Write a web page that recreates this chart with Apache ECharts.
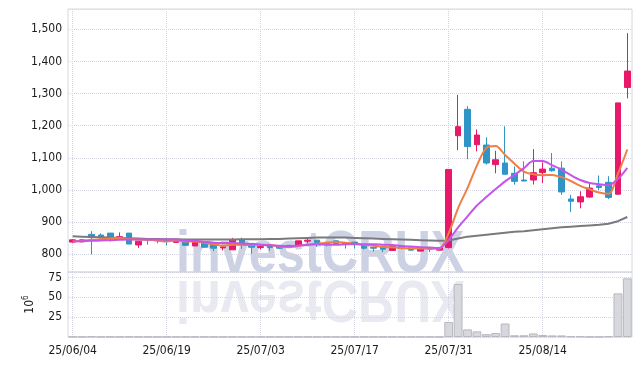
<!DOCTYPE html>
<html>
<head>
<meta charset="utf-8">
<script src="https://cdn.jsdelivr.net/npm/echarts@6/dist/echarts.min.js"></script>
<style>
  html, body {margin: 0; padding: 0; background: #fff;}
  #main {width: 642px; height: 366px;}
</style>
</head>
<body>
<div id="main"></div>
<script>
const dates = [
  '25/06/04', '25/06/05', '25/06/09', '25/06/10', '25/06/11', '25/06/12', '25/06/13', '25/06/16', '25/06/17', '25/06/18',
  '25/06/19', '25/06/20', '25/06/23', '25/06/24', '25/06/25', '25/06/26', '25/06/27', '25/06/30', '25/07/01', '25/07/02',
  '25/07/03', '25/07/04', '25/07/07', '25/07/08', '25/07/09', '25/07/10', '25/07/11', '25/07/14', '25/07/15', '25/07/16',
  '25/07/17', '25/07/18', '25/07/21', '25/07/22', '25/07/23', '25/07/24', '25/07/25', '25/07/28', '25/07/29', '25/07/30',
  '25/07/31', '25/08/01', '25/08/04', '25/08/05', '25/08/06', '25/08/07', '25/08/08', '25/08/11', '25/08/12', '25/08/13',
  '25/08/14', '25/08/18', '25/08/19', '25/08/20', '25/08/21', '25/08/22', '25/08/25', '25/08/26', '25/08/27', '25/08/28'
];

// [open, close, low, high]
const ohlc = [
  [838, 845, 836, 847], [839, 845, 837, 847], [862, 852, 800, 872], [860, 851, 850, 865], [866, 852, 840, 866],
  [851, 855, 846, 868], [866, 832, 832, 866], [829, 841, 820, 841], [847, 844, 830, 848], [846, 842, 834, 847],
  [847, 843, 828, 848], [837, 845, 837, 845], [842, 828, 828, 842], [826, 842, 826, 842], [835, 822, 822, 841],
  [834, 819, 810, 834], [820, 823, 812, 830], [814, 844, 814, 851], [846, 835, 817, 852], [834, 822, 802, 834],
  [821, 824, 815, 830], [825, 821, 811, 830], [824, 819, 817, 826], [828, 824, 822, 829], [829, 842, 829, 842],
  [841, 844, 834, 849], [844, 837, 823, 844], [837, 833, 825, 838], [842, 833, 832, 842], [836, 832, 818, 836],
  [838, 830, 818, 838], [830, 819, 815, 830], [822, 819, 809, 822], [825, 816, 807, 825], [812, 825, 812, 825],
  [825, 819, 815, 825], [820, 813, 812, 820], [810, 818, 810, 818], [820, 816, 807, 820], [813, 820, 812, 820],
  [821, 1064, 818, 1064], [1169, 1197, 1124, 1296], [1251, 1135, 1096, 1261], [1141, 1171, 1120, 1188], [1140, 1084, 1079, 1164],
  [1079, 1094, 1052, 1122], [1084, 1049, 1049, 1198], [1052, 1027, 1017, 1073], [1031, 1028, 1027, 1089], [1031, 1054, 1017, 1127],
  [1054, 1065, 1022, 1086], [1068, 1060, 1057, 1115], [1068, 994, 985, 1089], [972, 965, 932, 985], [963, 979, 943, 996],
  [978, 1006, 976, 1019], [1013, 1008, 1000, 1045], [1024, 977, 972, 1043], [987, 1271, 985, 1271], [1319, 1370, 1285, 1488]
];

// volume, millions
const volume = [
  0.4, 0.3, 0.6, 0.3, 0.4, 0.3, 0.5, 0.3, 0.2, 0.2,
  0.2, 0.2, 0.3, 0.2, 0.3, 0.2, 0.2, 0.3, 0.2, 0.2,
  0.2, 0.2, 0.2, 0.2, 0.3, 0.2, 0.2, 0.2, 0.2, 0.2,
  0.2, 0.2, 0.2, 0.2, 0.2, 0.2, 0.2, 0.2, 0.2, 0.2,
  19, 67, 9.6, 7.1, 3.5, 5, 17, 2.2, 2.2, 4.5,
  2.5, 2, 2, 0.8, 0.8, 0.3, 0.3, 0.8, 55, 74
];

const ma5 = [
  840, 842, 845, 847, 849, 851, 848, 846, 845, 843,
  840, 843, 840, 840, 836, 831, 827, 830, 829, 829,
  830, 829, 824, 822, 826, 830, 833, 836, 838, 836,
  833, 829, 827, 823, 822, 820, 818, 818, 818, 817,
  866, 944, 1006, 1076, 1131, 1137, 1109, 1082, 1057, 1049,
  1046, 1047, 1040, 1028, 1013, 1002, 992, 988, 1050, 1126
];

const ma10 = [
  840, 841, 842, 843, 844, 845, 846, 846, 846, 846,
  846, 846, 843, 842, 839, 836, 835, 835, 834, 832,
  830, 828, 827, 825, 827, 830, 831, 830, 830, 831,
  832, 831, 831, 830, 829, 826, 824, 822, 821, 820,
  845, 884, 918, 952, 978, 1003, 1027, 1047, 1068, 1090,
  1090, 1077, 1063, 1046, 1031, 1022, 1018, 1015, 1034, 1069
];

const maLong = [
  856, 855, 854, 853, 852, 851, 850, 849, 848, 848,
  847, 847, 846, 846, 846, 846, 846, 846, 847, 847,
  847, 848, 848, 849, 850, 851, 852, 852, 852, 852,
  851, 850, 849, 848, 847, 846, 845, 844, 843, 842,
  843, 849, 855, 858, 861, 864, 867, 870, 872, 875,
  878, 881, 884, 886, 888, 890, 892, 895, 903, 916
];

const upColor = '#e8196a';
const downColor = '#2f95c7';
const gridColor = '#d3d5e2';
const labelFont = '"DejaVu Sans Condensed", "Liberation Sans Narrow", "Roboto", sans-serif';

const chart = echarts.init(document.getElementById('main'));

const option = {
  animation: false,
  grid: [
    {left: 68, right: 10, top: 9, height: 263, show: true, borderColor: '#d6d7e1', borderWidth: 1},
    {left: 68, right: 10, top: 272, height: 65, show: true, borderColor: '#d6d7e1', borderWidth: 1}
  ],
  graphic: [
    {
      type: 'text', x: 176, y: 276, scaleX: 0.84, z: 0, silent: true,
      style: {text: 'investCRUX', x: 0, y: -21, verticalAlign: 'middle', font: 'bold 60px "Liberation Sans"', fill: '#cdd1e4'}
    },
    {
      type: 'text', x: 176, y: 277, scaleX: 0.84, scaleY: -1, z: 0, silent: true,
      style: {text: 'investCRUX', x: 0, y: -21, verticalAlign: 'middle', font: 'bold 60px "Liberation Sans"', fill: '#e8e9f1'}
    }
  ],
  xAxis: [
    {
      type: 'category', gridIndex: 0, data: dates,
      axisLine: {show: false}, axisTick: {show: false}, axisLabel: {show: false},
      splitLine: {show: true, interval: 9, alignWithLabel: true, lineStyle: {color: gridColor, type: 'dotted'}}
    },
    {
      type: 'category', gridIndex: 1, data: dates,
      axisLine: {show: false}, axisTick: {show: false},
      axisLabel: {interval: 9, margin: 8, fontFamily: labelFont, fontSize: 12, color: '#1a1a1a'},
      splitLine: {show: true, interval: 9, alignWithLabel: true, lineStyle: {color: gridColor, type: 'dotted'}}
    }
  ],
  yAxis: [
    {
      type: 'value', gridIndex: 0, min: 745, max: 1563, splitNumber: 8, minInterval: 100, maxInterval: 100,
      axisLine: {show: false}, axisTick: {show: false},
      axisLabel: {showMinLabel: false, showMaxLabel: false, margin: 6, fontFamily: labelFont, fontSize: 12, color: '#1a1a1a'},
      splitLine: {lineStyle: {color: gridColor, type: 'dotted'}}
    },
    {
      type: 'value', gridIndex: 1, min: 0, max: 82, interval: 25,
      name: '{a|10}{b|6}', nameLocation: 'middle', nameGap: 30,
      nameTextStyle: {
        rich: {
          a: {fontFamily: labelFont, fontSize: 12, color: '#222'},
          b: {fontFamily: labelFont, fontSize: 8, color: '#222', padding: [0, 0, 8, 0]}
        }
      },
      axisLine: {show: false}, axisTick: {show: false},
      axisLabel: {showMinLabel: false, showMaxLabel: false, margin: 6, fontFamily: labelFont, fontSize: 12, color: '#1a1a1a'},
      splitLine: {lineStyle: {color: gridColor, type: 'dotted'}}
    }
  ],
  series: [
    {
      type: 'candlestick', xAxisIndex: 0, yAxisIndex: 0, data: ohlc, barWidth: 6,
      itemStyle: {color: upColor, color0: downColor, borderColor: upColor, borderColor0: downColor, borderWidth: 1}
    },
    {
      type: 'line', xAxisIndex: 0, yAxisIndex: 0, data: maLong, showSymbol: false,
      lineStyle: {color: '#7a7a7e', width: 2}
    },
    {
      type: 'line', xAxisIndex: 0, yAxisIndex: 0, data: ma5, showSymbol: false, smooth: 0.3,
      lineStyle: {color: '#ef7f45', width: 2}
    },
    {
      type: 'line', xAxisIndex: 0, yAxisIndex: 0, data: ma10, showSymbol: false, smooth: 0.3,
      lineStyle: {color: '#c455ea', width: 2}
    },
    {
      type: 'bar', xAxisIndex: 1, yAxisIndex: 1, data: volume, barCategoryGap: '6%',
      itemStyle: {color: '#d7d7de', borderColor: '#b8b8c0', borderWidth: 1}
    }
  ]
};

chart.setOption(option);
</script>
</body>
</html>
